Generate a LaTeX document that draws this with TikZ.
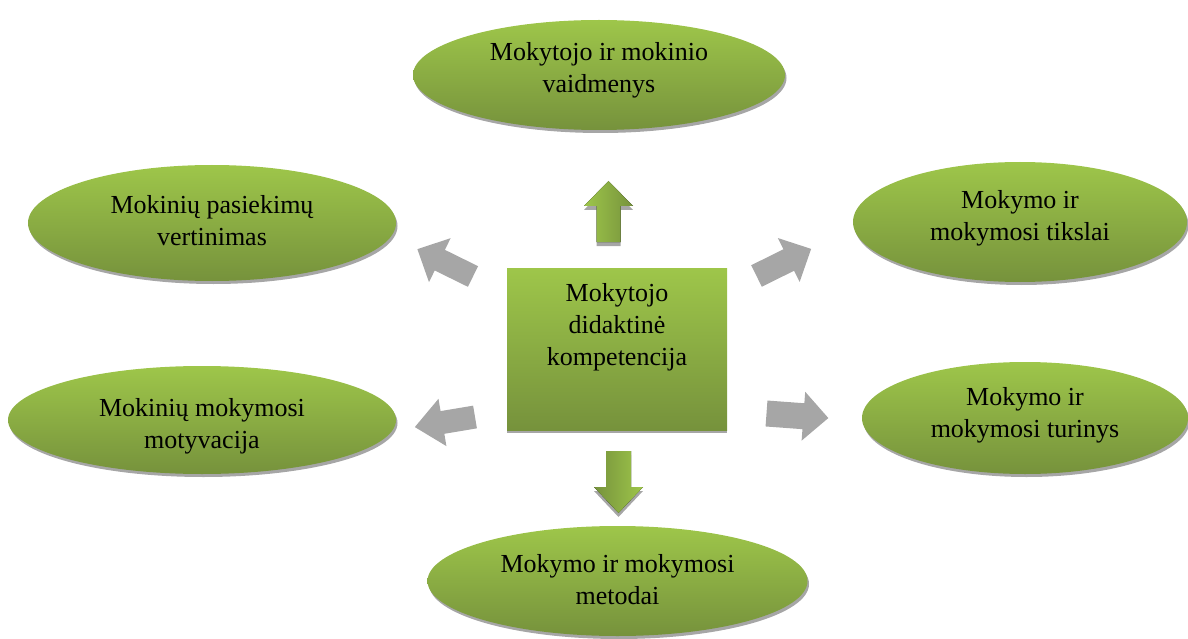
\documentclass[tikz,border=0pt]{standalone}
\usepackage{fontspec}
\setmainfont{Liberation Serif}
\usetikzlibrary{shapes.geometric,shadows}
\definecolor{gtop}{HTML}{9EC64A}
\definecolor{gbot}{HTML}{76923C}
\definecolor{shgray}{HTML}{A6A6A6}
\tikzset{
  oval/.style={ellipse,inner sep=0pt,top color=gtop,bottom color=gbot,draw=none,
    align=center,font=\fontsize{26}{32}\selectfont,
    drop shadow={shadow xshift=1.5pt,shadow yshift=-3pt,fill=shgray,opacity=1}},
  centerbox/.style={rectangle,inner sep=0pt,top color=gtop,bottom color=gbot,draw=none,
    drop shadow={shadow xshift=0pt,shadow yshift=-3pt,fill=shgray,opacity=1}},
  boxtext/.style={align=center,font=\fontsize{26}{32}\selectfont,inner sep=0pt},
  grayarrow/.style={fill=shgray,draw=none},
  garrowup/.style={left color=gtop,right color=gbot,draw=none},
  garrowdown/.style={left color=gbot,right color=gtop,draw=none},
  garrowshadow/.style={fill=shgray,draw=none}
}
\begin{document}
\begin{tikzpicture}[x=1pt,y=-1pt]
\useasboundingbox (0,0) rectangle (1188,639);

% ovals
\node[oval,minimum width=372pt,minimum height=110pt] (roles) at (599,75) {};
\node[boxtext] (rolestext) at (599,70) {Mokytojo ir mokinio\\vaidmenys};
\node[oval,minimum width=368pt,minimum height=116pt] (eval) at (212,223) {};
\node[boxtext] (evaltext) at (212,221) {Mokinių pasiekimų\\vertinimas};
\node[oval,minimum width=334pt,minimum height=120pt] (goals) at (1020,222) {};
\node[boxtext] (goalstext) at (1020,218) {Mokymo ir\\mokymosi tikslai};
\node[oval,minimum width=388pt,minimum height=108pt] (motiv) at (202,420) {};
\node[boxtext] (motivtext) at (202,426) {Mokinių mokymosi\\motyvacija};
\node[oval,minimum width=326pt,minimum height=112pt] (content) at (1025,418) {};
\node[boxtext] (contenttext) at (1025,415) {Mokymo ir\\mokymosi turinys};
\node[oval,minimum width=380pt,minimum height=110pt] (methods) at (617.5,581) {};
\node[boxtext] (methodstext) at (617.5,580) {Mokymo ir mokymosi\\metodai};

% center box
\node[centerbox,minimum width=220pt,minimum height=162pt] (core) at (617,349) {};
\node[boxtext] (coretext) at (617,327) {Mokytojo\\didaktinė\\kompetencija};

% green arrows (up and down) with shadows
\fill[garrowshadow] (596.5,246) -- (596.5,210) -- (584,210) -- (608.5,185) -- (633,210) -- (620.5,210) -- (620.5,246) -- cycle;
\fill[garrowup] (596.5,242) -- (596.5,206) -- (584,206) -- (608.5,181) -- (633,206) -- (620.5,206) -- (620.5,242) -- cycle;
\fill[garrowshadow] (606,455) -- (606,491) -- (594,491) -- (618.5,517) -- (643,491) -- (631,491) -- (631,455) -- cycle;
\fill[garrowdown] (606,451) -- (606,487) -- (594,487) -- (618.5,513) -- (643,487) -- (631,487) -- (631,451) -- cycle;

% gray arrows
\begin{scope}[shift={(473,276.5)},rotate=153.8]
\fill[grayarrow] (0,-11.5) -- (37,-11.5) -- (37,-24.5) -- (62,0) -- (37,24.5) -- (37,11.5) -- (0,11.5) -- cycle;
\end{scope}
\begin{scope}[shift={(756.5,276)},rotate=26.4]
\fill[grayarrow] (0,-12) -- (36,-12) -- (36,-24.5) -- (61,0) -- (36,24.5) -- (36,12) -- (0,12) -- cycle;
\end{scope}
\begin{scope}[shift={(475,417)},rotate=189.5]
\fill[grayarrow] (0,-11.5) -- (33,-11.5) -- (33,-24) -- (61,0) -- (33,24) -- (33,11.5) -- (0,11.5) -- cycle;
\end{scope}
\begin{scope}[shift={(766.5,413.5)},rotate=-4.2]
\fill[grayarrow] (0,-13) -- (37,-13) -- (37,-24.5) -- (62,0) -- (37,24.5) -- (37,13) -- (0,13) -- cycle;
\end{scope}
\end{tikzpicture}
\end{document}
